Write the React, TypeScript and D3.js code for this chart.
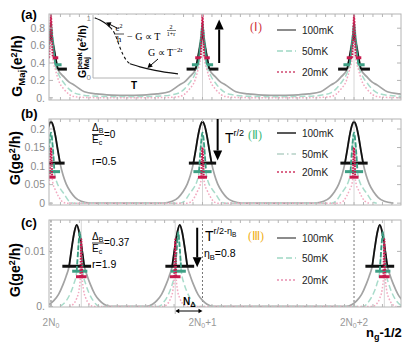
import React from 'react';
import * as d3 from 'd3';

const SANS = "'Liberation Sans', Arial, sans-serif";
const SERIF = "'Liberation Serif', 'Times New Roman', serif";

// x axis: n_g - 1/2, counted from 2N0
const xDomain = [-0.013, 2.31];
const xLabelPos = [0, 1, 2];
const xLabelSuffix = ['', '+1', '+2'];
const tempLabels = ['100mK', '50mK', '20mK'];

// peak centres
const abPeaks = [0, 1, 2];
const cPeaks100 = [0.17, 0.85, 2.17];
const cPeaks50 = [0.19, 0.84, 2.19];
const cPeaks20 = [0.2, 0.82, 2.2];

// panel (a): half profiles (offset from centre, G_Maj in e^2/h)
const aOffset100 = [0, 0.045, 0.086, 0.12, 0.15, 0.22, 0.3, 0.4, 0.5];
const aValue100 = [0.74, 0.33, 0.24, 0.18, 0.15, 0.07, 0.045, 0.032, 0.028];
const aOffset50 = [0, 0.028, 0.05, 0.086, 0.12, 0.15, 0.2, 0.3, 0.5];
const aValue50 = [0.86, 0.38, 0.27, 0.17, 0.1, 0.06, 0.035, 0.018, 0.012];
const aOffset20 = [0, 0.012, 0.03, 0.05, 0.086, 0.12, 0.15, 0.2, 0.3, 0.5];
const aValue20 = [0.96, 0.46, 0.32, 0.2, 0.1, 0.04, 0.015, 0.006, 0.002, 0];
// width markers: level, inner offset, outer offset
const aMark100 = [0.33, 0.045, 0.105];
const aMark50 = [0.38, 0.028, 0.07];
const aMark20 = [0.46, 0.012, 0.048];

// panel (b)
const bOffset100 = [0, 0.015, 0.03, 0.045, 0.06, 0.08, 0.1, 0.13, 0.16, 0.2, 0.26];
const bValue100 = [0.22, 0.208, 0.18, 0.143, 0.108, 0.075, 0.052, 0.03, 0.015, 0.005, 0];
const bOffset50 = [0, 0.012, 0.023, 0.04, 0.06, 0.086, 0.12, 0.15];
const bValue50 = [0.19, 0.15, 0.085, 0.055, 0.04, 0.025, 0.005, 0];
const bOffset20 = [0, 0.004, 0.008, 0.015, 0.03, 0.05, 0.07, 0.1];
const bValue20 = [0.15, 0.12, 0.07, 0.05, 0.035, 0.018, 0.006, 0];
const bMark100 = [0.108, 0.06, 0.09];
const bMark50 = [0.085, 0.023, 0.06];
const bMark20 = [0.07, 0.008, 0.03];

// panel (c)
const cOffset100 = [0, 0.015, 0.03, 0.05, 0.07, 0.09, 0.12, 0.15, 0.18, 0.22];
const cValue100 = [0.0148, 0.0136, 0.0112, 0.0073, 0.0055, 0.004, 0.0022, 0.0011, 0.0004, 0];
const cOffset50 = [0, 0.01, 0.02, 0.04, 0.06, 0.09, 0.13];
const cValue50 = [0.0135, 0.0105, 0.0064, 0.004, 0.0025, 0.001, 0];
const cOffset20 = [0, 0.003, 0.006, 0.015, 0.03, 0.05, 0.08];
const cValue20 = [0.0122, 0.009, 0.0054, 0.003, 0.0015, 0.0005, 0];
const cMark100 = [0.0073, 0.05, 0.095];
const cMark50 = [0.0064, 0.02, 0.05];
const cMark20 = [0.0054, 0.006, 0.035];

// inset of (a): G_peak vs T
const insetT1 = [0.023, 0.08, 0.138, 0.195];
const insetG1 = [1.0, 0.966, 0.915, 0.847];
const insetT2 = [0.195, 0.241, 0.276, 0.31, 0.345, 0.379, 0.425];
const insetG2 = [0.847, 0.763, 0.644, 0.508, 0.39, 0.305, 0.237];
const insetT3 = [0.425, 0.54, 0.713, 0.977];
const insetG3 = [0.237, 0.186, 0.127, 0.068];

const aTicks = [0, 0.2, 0.4, 0.6, 0.8];
const aTickText = ['0.', '0.2', '0.4', '0.6', '0.8'];
const bTicks = [0, 0.05, 0.1, 0.15, 0.2];
const bTickText = ['0', '0.05', '0.1', '0.15', '0.2'];
const cTicks = [0, 0.01];
const cTickText = ['0.', '0.01'];

const lightColor = ['#a3a3a3', '#a9dccb', '#f2a9c0'];
const lightDash = [undefined, '6,3', '1.6,1.8'];
const darkColor = ['#111111', '#3d9f84', '#c8194d'];

const x = d3.scaleLinear().domain(xDomain).range([49, 401]);
const L = 49, R = 401;

type Pt = [number, number];

function peakPoints(centers: number[], offs: number[], vals: number[]): Pt[] {
  const pts: Pt[] = [];
  centers.forEach(c => {
    for (let i = offs.length - 1; i >= 1; i--) pts.push([c - offs[i], vals[i]]);
    for (let i = 0; i < offs.length; i++) pts.push([c + offs[i], vals[i]]);
  });
  return pts.filter((p, i, a) => i === 0 || p[0] > a[i - 1][0] + 1e-9);
}

function topPoints(c: number, offs: number[], vals: number[], inner: number): Pt[] {
  const idx = offs.map((_, i) => i).filter(i => offs[i] <= inner + 1e-9);
  const pts: Pt[] = [];
  for (let k = idx.length - 1; k >= 1; k--) pts.push([c - offs[idx[k]], vals[idx[k]]]);
  idx.forEach(i => pts.push([c + offs[i], vals[i]]));
  return pts;
}

function Panel(props: any) {
  const { id, y, top, bottom, ticks, tickText, series, split, darkDash, legend, legendRows, grid, dotted, linearTop } = props;
  const line = d3.line<Pt>().x(d => x(d[0])).y(d => y(d[1])).curve(d3.curveMonotoneX);
  const topLine = d3.line<Pt>().x(d => x(d[0])).y(d => y(d[1])).curve(linearTop ? d3.curveLinear : d3.curveMonotoneX);
  const minor = d3.range(0, 2.31, 1 / 16);
  return (
    <g>
      <clipPath id={'clip' + id}><rect x={L} y={top} width={R - L} height={bottom - top} /></clipPath>
      <g clipPath={`url(#clip${id})`}>
        {grid.map((g: number, i: number) => (
          <line key={'g' + i} x1={x(g)} x2={x(g)} y1={top} y2={bottom} stroke="#d6d6d6" strokeWidth={1} />
        ))}
        {dotted.map((g: number, i: number) => (
          <line key={'d' + i} x1={x(g)} x2={x(g)} y1={top} y2={bottom} stroke="#777" strokeWidth={1} strokeDasharray="2,2" />
        ))}
        {series.map((s: any, i: number) => (
          <path key={'l' + i} d={line(peakPoints(s.centers, s.offs, s.vals)) || ''} fill="none"
            stroke={lightColor[i]} strokeWidth={i === 0 ? 1.7 : 1.5} strokeDasharray={lightDash[i]} />
        ))}
        {series.map((s: any, i: number) => (
          <g key={'t' + i}>
            {s.centers.map((c: number, j: number) => {
              const [lev, inner, outer] = s.mark;
              return (
                <g key={j}>
                  <path d={topLine(topPoints(c, s.offs, s.vals, inner)) || ''} fill="none" stroke={darkColor[i]}
                    strokeWidth={i === 2 ? 2 : 1.8} strokeDasharray={darkDash[i]} />
                  {split ? (
                    <g>
                      <line x1={x(c - outer)} x2={x(c - inner)} y1={y(lev)} y2={y(lev)} stroke={darkColor[i]} strokeWidth={3} />
                      <line x1={x(c + inner)} x2={x(c + outer)} y1={y(lev)} y2={y(lev)} stroke={darkColor[i]} strokeWidth={3} />
                    </g>
                  ) : (
                    <line x1={x(c - outer)} x2={x(c + outer)} y1={y(lev)} y2={y(lev)} stroke={darkColor[i]} strokeWidth={3} />
                  )}
                </g>
              );
            })}
          </g>
        ))}
      </g>
      <rect x={L} y={top} width={R - L} height={bottom - top} fill="none" stroke="#b4b4b4" strokeWidth={1} />
      {minor.map((m, i) => (
        <g key={'m' + i}>
          <line x1={x(m)} x2={x(m)} y1={top} y2={top + 3} stroke="#b4b4b4" />
          <line x1={x(m)} x2={x(m)} y1={bottom} y2={bottom - 3} stroke="#b4b4b4" />
        </g>
      ))}
      {ticks.map((t: number, i: number) => (
        <g key={'y' + i}>
          <line x1={L} x2={L + 4} y1={y(t)} y2={y(t)} stroke="#b4b4b4" />
          <line x1={R} x2={R - 4} y1={y(t)} y2={y(t)} stroke="#b4b4b4" />
          <text x={45} y={y(t) + 3.8} textAnchor="end" fontSize={10.5} fill="#8a8a8a" fontFamily={SANS}>{tickText[i]}</text>
        </g>
      ))}
      {legend.colors.map((col: string, i: number) => (
        <g key={'lg' + i}>
          <line x1={277} x2={296} y1={legendRows[i]} y2={legendRows[i]} stroke={col} strokeWidth={legend.widths[i]} strokeDasharray={legend.dashes[i]} />
          <text x={302} y={legendRows[i] + 3.6} fontSize={10} fontFamily={SANS} fill="#222">{tempLabels[i]}</text>
        </g>
      ))}
    </g>
  );
}

function Arrow({ x0, y0, y1, up }: any) {
  const h = 10, w = 4.5;
  const base = up ? y1 + h : y1 - h;
  return (
    <g>
      <line x1={x0} x2={x0} y1={y0} y2={base} stroke="#000" strokeWidth={2} />
      <path d={`M${x0 - w},${base} L${x0},${y1} L${x0 + w},${base} Z`} fill="#000" />
    </g>
  );
}

export default function App() {
  const yA = d3.scaleLinear().domain([-0.025, 0.963]).range([100, 14]);
  const yB = d3.scaleLinear().domain([-0.005, 0.227]).range([205, 119]);
  const yC = d3.scaleLinear().domain([-0.0001, 0.0157]).range([307, 220]);
  const ix = d3.scaleLinear().domain([0, 1]).range([93, 180]);
  const iy = d3.scaleLinear().domain([0, 1]).range([78, 18]);
  const insetPath = (ts: number[], gs: number[]) =>
    d3.line<number>().x(t => ix(t)).y((_, i) => iy(gs[i])).curve(d3.curveMonotoneX)(ts) || '';

  const aSeries = [
    { centers: abPeaks, offs: aOffset100, vals: aValue100, mark: aMark100 },
    { centers: abPeaks, offs: aOffset50, vals: aValue50, mark: aMark50 },
    { centers: abPeaks, offs: aOffset20, vals: aValue20, mark: aMark20 },
  ];
  const bSeries = [
    { centers: abPeaks, offs: bOffset100, vals: bValue100, mark: bMark100 },
    { centers: abPeaks, offs: bOffset50, vals: bValue50, mark: bMark50 },
    { centers: abPeaks, offs: bOffset20, vals: bValue20, mark: bMark20 },
  ];
  const cSeries = [
    { centers: cPeaks100, offs: cOffset100, vals: cValue100, mark: cMark100 },
    { centers: cPeaks50, offs: cOffset50, vals: cValue50, mark: cMark50 },
    { centers: cPeaks20, offs: cOffset20, vals: cValue20, mark: cMark20 },
  ];
  const legGray = { colors: ['#8c8c8c', '#9fd8c4', '#d04a72'], dashes: [undefined, '6,3', '2,2'], widths: [2, 1.6, 1.6] };
  const legBlack = { colors: ['#111', '#8fb9aa', '#d03763'], dashes: [undefined, '7,3,1.5,3', '2,2'], widths: [1.4, 1.2, 1.6] };
  const legPink = { colors: ['#8c8c8c', '#9fd8c4', '#e88fb0'], dashes: [undefined, '6,3', '2,2'], widths: [2, 1.6, 1.6] };

  return (
    <svg width={415} height={347} style={{ position: 'absolute', left: 0, top: 0, background: '#fff' }} fontFamily={SANS}>
      <Panel id="a" y={yA} top={14} bottom={100} ticks={aTicks} tickText={aTickText} series={aSeries} split linearTop
        darkDash={[undefined, undefined, '1.6,1.2']} legend={legGray} legendRows={[30, 51, 72]} grid={[1, 2]} dotted={[]} />
      <Panel id="b" y={yB} top={119} bottom={205} ticks={bTicks} tickText={bTickText} series={bSeries}
        darkDash={[undefined, '5,2', '1.6,1.2']} legend={legBlack} legendRows={[133, 154, 172]} grid={[1, 2]} dotted={[]} />
      <Panel id="c" y={yC} top={220} bottom={307} ticks={cTicks} tickText={cTickText} series={cSeries}
        darkDash={[undefined, '5,2', '1.6,1.2']} legend={legPink} legendRows={[238, 258, 280]} grid={cPeaks20} dotted={xLabelPos} />

      {/* inset of (a) */}
      <rect x={89} y={15} width={92} height={64} fill="#fff" />
      <line x1={93} x2={93} y1={15} y2={78} stroke="#b4b4b4" />
      <line x1={93} x2={180} y1={78} y2={78} stroke="#b4b4b4" />
      <line x1={93} x2={96} y1={iy(1)} y2={iy(1)} stroke="#b4b4b4" />
      <text x={91} y={iy(1) + 3} textAnchor="end" fontSize={8} fill="#8a8a8a">1</text>
      <text x={91} y={iy(0) + 2} textAnchor="end" fontSize={8} fill="#8a8a8a">0</text>
      <path d={insetPath(insetT1, insetG1)} fill="none" stroke="#111" strokeWidth={1.2} />
      <path d={insetPath(insetT2, insetG2)} fill="none" stroke="#111" strokeWidth={1.1} strokeDasharray="3,2.5" />
      <path d={insetPath(insetT3, insetG3)} fill="none" stroke="#111" strokeWidth={1.2} />
      <text x={131} y={89} fontSize={10} fontWeight="bold">T</text>
      <g transform="translate(86,78) rotate(-90)">
        <text x={0} y={0} fontSize={10.5} fontWeight="bold">G</text>
        <text x={8.5} y={-4} fontSize={7.5} fontWeight="bold">peak</text>
        <text x={8.5} y={3} fontSize={7.5} fontWeight="bold">Maj</text>
        <text x={27} y={0} fontSize={10.5} fontWeight="bold">(e<tspan fontSize={7} dy={-4}>2</tspan><tspan dy={4}>/h)</tspan></text>
      </g>
      <g fontFamily={SERIF}>
        <text x={119} y={31} fontSize={9} textAnchor="middle">e<tspan fontSize={6} dy={-3}>2</tspan></text>
        <line x1={114} x2={124} y1={34} y2={34} stroke="#000" strokeWidth={0.7} />
        <text x={119} y={42} fontSize={9} textAnchor="middle">h</text>
        <text x={127} y={40} fontSize={10}>− G ∝ T</text>
        <text x={171} y={29} fontSize={6} textAnchor="middle">2</text>
        <line x1={167} x2={176} y1={30.5} y2={30.5} stroke="#000" strokeWidth={0.5} />
        <text x={171} y={36} fontSize={6} textAnchor="middle">1+r</text>
        <text x={148} y={56} fontSize={10}>G ∝ T<tspan fontSize={7} dy={-4}>−2r</tspan></text>
      </g>
      <line x1={117} x2={110} y1={28} y2={24.5} stroke="#000" strokeWidth={1} />
      <path d="M106,22.5 L111.5,22.3 L109.3,26.8 Z" fill="#000" />
      <line x1={158} x2={151} y1={59} y2={65} stroke="#000" strokeWidth={1} />
      <path d="M147.5,68 L149.3,62.8 L152.8,66.6 Z" fill="#000" />

      {/* panel labels and axis titles */}
      <text x={21} y={19} fontSize={13} fontWeight="bold">(a)</text>
      <text x={21} y={118} fontSize={13} fontWeight="bold">(b)</text>
      <text x={21} y={227} fontSize={13} fontWeight="bold">(c)</text>
      <text transform="translate(22,66) rotate(-90)" textAnchor="middle" fontSize={14} fontWeight="bold">
        G<tspan fontSize={9.5} dy={3}>Maj</tspan><tspan dy={-3}>(e</tspan><tspan fontSize={9} dy={-5}>2</tspan><tspan dy={5}>/h)</tspan>
      </text>
      <text transform="translate(20,158) rotate(-90)" textAnchor="middle" fontSize={14} fontWeight="bold">
        G(ge<tspan fontSize={9} dy={-5}>2</tspan><tspan dy={5}>/h)</tspan>
      </text>
      <text transform="translate(20,270) rotate(-90)" textAnchor="middle" fontSize={14} fontWeight="bold">
        G(ge<tspan fontSize={9} dy={-5}>2</tspan><tspan dy={5}>/h)</tspan>
      </text>

      {/* annotations (a) */}
      <Arrow x0={x(1.11)} y0={yA(0.4)} y1={yA(0.9)} up />
      <text x={250} y={31} fontSize={12} fill="#d0343c" fontFamily={SERIF}>(Ⅰ)</text>

      {/* annotations (b) */}
      <text x={92} y={131} fontSize={10}>Δ<tspan fontSize={7} dy={2}>B</tspan></text>
      <line x1={92} x2={104} y1={134.5} y2={134.5} stroke="#000" strokeWidth={0.8} />
      <text x={92} y={143} fontSize={10}>E<tspan fontSize={7} dy={2}>c</tspan></text>
      <text x={104} y={138} fontSize={10}>=0</text>
      <text x={92} y={165} fontSize={10.5}>r=0.5</text>
      <Arrow x0={x(1.1)} y0={yB(0.227)} y1={yB(0.115)} />
      <text x={225} y={143} fontSize={14}>T<tspan fontSize={9} dy={-7}>r/2</tspan></text>
      <text x={248} y={139} fontSize={12} fill="#3cb878" fontFamily={SERIF}>(Ⅱ)</text>

      {/* annotations (c) */}
      <text x={92} y={240} fontSize={10}>Δ<tspan fontSize={7} dy={2}>B</tspan></text>
      <line x1={92} x2={104} y1={243} y2={243} stroke="#000" strokeWidth={0.8} />
      <text x={92} y={252} fontSize={10}>E<tspan fontSize={7} dy={2}>c</tspan></text>
      <text x={104} y={246} fontSize={10}>=0.37</text>
      <text x={92} y={268} fontSize={10.5}>r=1.9</text>
      <Arrow x0={x(0.965)} y0={yC(0.0143)} y1={yC(0.0071)} />
      <text x={205} y={241} fontSize={14}>T<tspan fontSize={9} dy={-7}>r/2-η</tspan><tspan fontSize={6.5} dy={2.5}>B</tspan></text>
      <text x={204} y={257} fontSize={10.5}>η<tspan fontSize={7.5} dy={2.5}>B</tspan><tspan dy={-2.5}>=0.8</tspan></text>
      <text x={248} y={240} fontSize={12} fill="#f0b020" fontFamily={SERIF}>(Ⅲ)</text>
      <text x={183} y={305} fontSize={10} fontWeight="bold">N<tspan fontSize={7.5} dy={2}>Δ</tspan></text>
      <line x1={x(cPeaks20[1]) + 3} x2={x(1) - 3} y1={311} y2={311} stroke="#000" strokeWidth={1} />
      <path d={`M${x(cPeaks20[1])},311 l4,-2.2 l0,4.4 Z`} fill="#000" />
      <path d={`M${x(1)},311 l-4,-2.2 l0,4.4 Z`} fill="#000" />
      <line x1={x(cPeaks20[1])} x2={x(cPeaks20[1])} y1={307} y2={314} stroke="#bbb" />

      {/* x labels */}
      {xLabelPos.map((p, i) => (
        <text key={i} x={x(p)} y={326} textAnchor="middle" fontSize={10} fill="#999">
          2N<tspan fontSize={7} dy={2}>0</tspan><tspan dy={-2}>{xLabelSuffix[i]}</tspan>
        </text>
      ))}
      <text x={366} y={337} fontSize={13} fontWeight="bold">n<tspan fontSize={9} dy={3}>g</tspan><tspan dy={-3}>-1/2</tspan></text>
    </svg>
  );
}
